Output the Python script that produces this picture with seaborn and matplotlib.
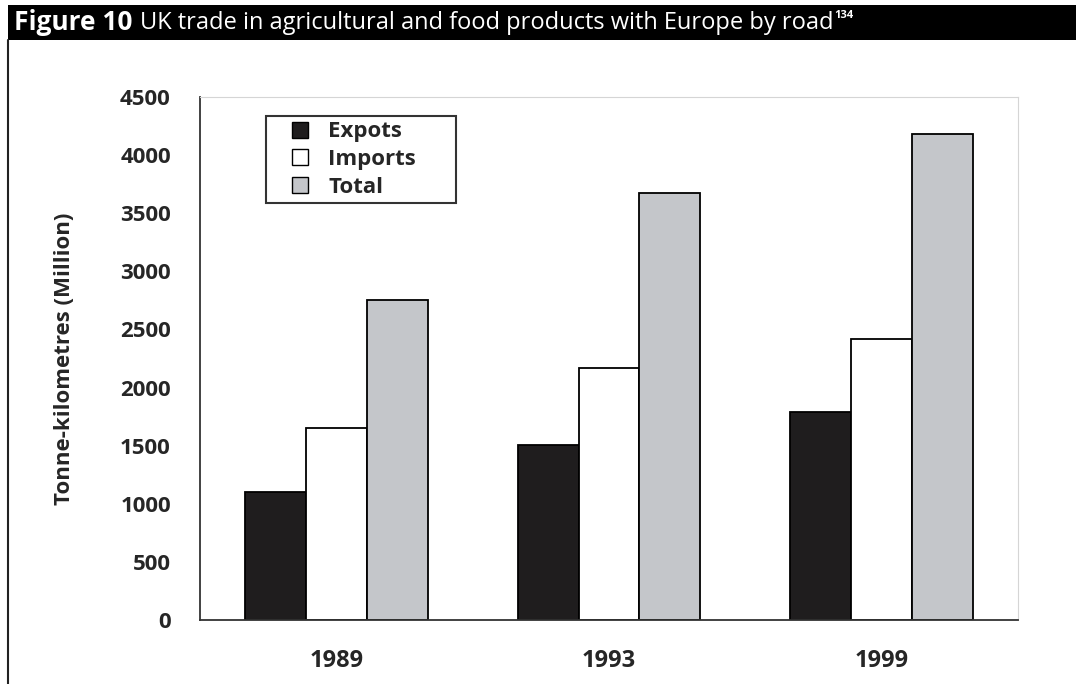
import pandas as pd
import matplotlib.pyplot as plt
import seaborn as sns
from matplotlib.patches import Rectangle
from matplotlib.lines import Line2D

# values (tonne-km, million)
years = ['1989', '1993', '1999']
series = ['Expots', 'Imports', 'Total']
expots = [1100, 1510, 1790]
imports = [1650, 2170, 2420]
total = [2750, 3670, 4180]
colours = ['#1f1d1e', '#ffffff', '#c4c6ca']

df = pd.DataFrame({
    'Year': years * 3,
    'Series': [s for s in series for _ in years],
    'Value': expots + imports + total,
})

sns.set_style('white')
plt.rcParams['font.family'] = ['Open Sans', 'DejaVu Sans']

W, H = 1076, 684
fig = plt.figure(figsize=(W / 100, H / 100), dpi=100)

# black title bar + page frame
fig.patches.append(Rectangle((8 / W, 1 - 40 / H), 1, 35 / H, transform=fig.transFigure,
                             facecolor='black', edgecolor='none', zorder=0))
fig.add_artist(Line2D([8 / W, 8 / W], [0, 1 - 40 / H], color='#222222', lw=1.5,
                      transform=fig.transFigure))

t1 = fig.text(14 / W, 1 - 23 / H, 'Figure 10', color='white', fontsize=19,
              fontweight='bold', va='center', ha='left')
fig.canvas.draw()
r = fig.canvas.get_renderer()
bb = t1.get_window_extent(r)
t2 = fig.text((bb.x1 + 7) / W, 1 - 23 / H,
              'UK trade in agricultural and food products with Europe by road',
              color='white', fontsize=17, va='center', ha='left')
bb2 = t2.get_window_extent(r)
fig.text((bb2.x1 + 1) / W, 1 - 15 / H, '134', color='white', fontsize=8,
         fontweight='bold', va='center', ha='left')

ax = fig.add_axes([200 / W, 1 - 620 / H, 818 / W, 523 / H])
sns.barplot(data=df, x='Year', y='Value', hue='Series', order=years,
            hue_order=series, palette=colours, edgecolor='black', linewidth=1.3,
            width=0.67, saturation=1, ax=ax)

ax.set_xlim(-0.5, 2.5)
ax.set_ylim(0, 4500)
ax.set_yticks(range(0, 4501, 500))
ax.set_yticklabels([str(v) for v in range(0, 4501, 500)], fontweight='bold', fontsize=16)
ax.set_xticks([-0.5, 0.5, 1.5, 2.5])
ax.set_xticklabels([])
ax.set_xticks(range(3), minor=True)
ax.set_xticklabels(years, minor=True, fontweight='bold', fontsize=17)
ax.tick_params(axis='x', which='major', direction='out', length=7, width=1.2, color='#333333')
ax.tick_params(axis='x', which='minor', length=0, pad=21)
ax.tick_params(axis='y', direction='out', length=8, width=1.2, color='#333333', pad=13)

for s in ['left', 'bottom']:
    ax.spines[s].set_color('#333333')
    ax.spines[s].set_linewidth(1.3)
for s in ['top', 'right']:
    ax.spines[s].set_color('#d5d5d5')
    ax.spines[s].set_linewidth(0.8)

ax.set_xlabel('')
ax.set_ylabel('Tonne-kilometres (Million)', fontweight='bold', fontsize=16)
ax.yaxis.set_label_coords(-0.153, 0.5)

handles = [Line2D([], [], marker='s', linestyle='none', markersize=11,
                  markerfacecolor=c, markeredgecolor='black', markeredgewidth=1)
           for c in colours]
leg = ax.legend(handles, series, loc='upper left',
                bbox_to_anchor=(0.081, 0.964 - 0.165, 0.232, 0.165), mode='expand',
                borderaxespad=0, frameon=True, fancybox=False, handletextpad=0.05,
                labelspacing=0.3, borderpad=0.25, handlelength=2.5,
                prop={'weight': 'bold', 'size': 16})
leg.get_frame().set_edgecolor('black')
leg.get_frame().set_linewidth(1.5)

fig.savefig('out.png', dpi=100)
